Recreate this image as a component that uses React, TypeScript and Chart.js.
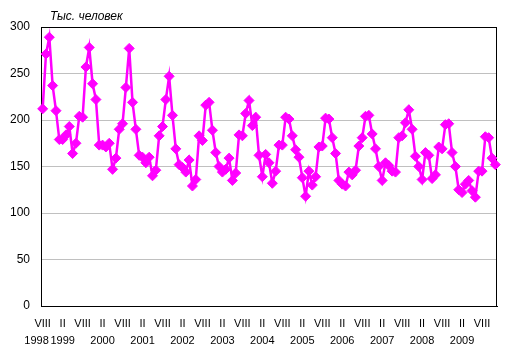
import { useEffect, useRef } from 'react';
import { Chart, registerables } from 'chart.js';

Chart.register(...registerables);

// Monthly values, thousand persons (Aug 1998 – Dec 2009)
const v1998 = [212, 271, 289, 237, 210]; // Aug–Dec
const v1999 = [179, 179, 184, 193, 164, 175, 204, 203, 257, 278, 239, 222];
const v2000 = [173, 173, 171, 175, 147, 159, 190, 196, 235, 277, 219, 190];
const v2001 = [162, 160, 154, 160, 140, 146, 183, 193, 222, 247, 205, 169];
const v2002 = [152, 149, 144, 157, 129, 136, 183, 178, 216, 219, 189, 165];
const v2003 = [150, 144, 147, 159, 135, 143, 184, 183, 207, 221, 194, 203];
const v2004 = [162, 139, 163, 154, 132, 145, 173, 173, 203, 201, 183, 168];
const v2005 = [160, 138, 118, 145, 130, 139, 171, 172, 202, 201, 181, 164];
const v2006 = [135, 131, 129, 144, 141, 146, 172, 181, 204, 205, 185, 169];
const v2007 = [150, 135, 154, 151, 145, 144, 181, 183, 197, 211, 190, 161];
const v2008 = [150, 136, 165, 162, 137, 141, 171, 169, 195, 196, 165, 150];
const v2009 = [125, 122, 131, 135, 124, 117, 145, 145, 182, 181, 159, 152];

const yearSeries = [v1998, v1999, v2000, v2001, v2002, v2003, v2004, v2005, v2006, v2007, v2008, v2009];
const firstYear = 1998;
const firstMonth = 8;
const romanMonths = ['I', 'II', 'III', 'IV', 'V', 'VI', 'VII', 'VIII', 'IX', 'X', 'XI', 'XII'];
const labeledMonths = ['VIII', 'II'];
const yearLabelMonth = 'II';
const yMin = 0;
const yMax = 300;
const yStep = 50;
const unitTitle = 'Тыс. человек';

// categories: [year, month]
const categories: [number, number][] = [];
const values: number[] = [];
yearSeries.forEach((arr, yi) => {
  const year = firstYear + yi;
  const startMonth = yi === 0 ? firstMonth : 1;
  arr.forEach((v, k) => {
    categories.push([year, startMonth + k]);
    values.push(v);
  });
});
const categoryNames = categories.map(([y, m]) => `${romanMonths[m - 1]} ${y}`);

const FONT = '"Liberation Sans", Arial, sans-serif';

export default function App() {
  const ref = useRef<HTMLCanvasElement | null>(null);

  useEffect(() => {
    if (!ref.current) return;

    const frame = {
      id: 'frameAndTitle',
      beforeDatasetsDraw(chart: any) {
        const { ctx, chartArea: a } = chart;
        ctx.save();
        ctx.strokeStyle = '#000';
        ctx.lineWidth = 1;
        ctx.strokeRect(Math.round(a.left) + 0.5, Math.round(a.top) + 0.5, Math.round(a.right - a.left) - 1, Math.round(a.bottom - a.top));
        ctx.restore();
      },
      afterDraw(chart: any) {
        const { ctx, chartArea: a } = chart;
        ctx.save();
        ctx.font = `italic 12px ${FONT}`;
        ctx.fillStyle = '#000';
        ctx.textAlign = 'left';
        ctx.textBaseline = 'middle';
        ctx.fillText(unitTitle, a.left + 9, 16.5);
        ctx.restore();
      },
    };

    const chart = new Chart(ref.current, {
      type: 'line',
      data: {
        labels: categoryNames,
        datasets: [
          {
            data: values,
            borderColor: '#FF00FF',
            backgroundColor: '#FF00FF',
            borderWidth: 2.5,
            pointStyle: 'rectRot',
            pointRadius: 5,
            pointBorderWidth: 1,
            pointBackgroundColor: '#FF00FF',
            pointBorderColor: '#FF00FF',
            tension: 0,
            clip: false as any,
          },
        ],
      },
      options: {
        animation: false,
        responsive: false,
        maintainAspectRatio: false,
        layout: { padding: { left: 0, right: 15, top: 27, bottom: 0 } },
        plugins: { legend: { display: false }, tooltip: { enabled: false }, title: { display: false } },
        scales: {
          x: {
            type: 'category',
            offset: true,
            grid: { display: false, drawTicks: false },
            border: { display: true, color: '#000', width: 1 },
            ticks: {
              autoSkip: false,
              maxRotation: 0,
              minRotation: 0,
              padding: 9.6,
              color: '#000',
              font: { family: FONT, size: 11, lineHeight: 1.55 },
              callback: (_v: any, index: number) => {
                const [year, month] = categories[index];
                const roman = romanMonths[month - 1];
                if (!labeledMonths.includes(roman)) return '';
                if (index === 0) return [roman, `${year}    `];
                if (roman === yearLabelMonth) return [roman, String(year)];
                return roman;
              },
            },
            afterFit: (s: any) => {
              s.height = 57;
            },
          },
          y: {
            min: yMin,
            max: yMax,
            grid: { color: '#c0c0c0', drawTicks: false, lineWidth: 1 },
            border: { display: true, color: '#000', width: 1 },
            ticks: {
              stepSize: yStep,
              padding: 11,
              color: '#000',
              font: { family: FONT, size: 12 },
            },
            afterFit: (s: any) => {
              s.width = 41;
            },
          },
        },
      },
      plugins: [frame],
    } as any);

    return () => chart.destroy();
  }, []);

  return (
    <div style={{ position: 'fixed', left: 0, top: 0, width: 512, height: 363, background: '#fff' }}>
      <canvas ref={ref} width={512} height={363} style={{ display: 'block', width: 512, height: 363 }} />
    </div>
  );
}
